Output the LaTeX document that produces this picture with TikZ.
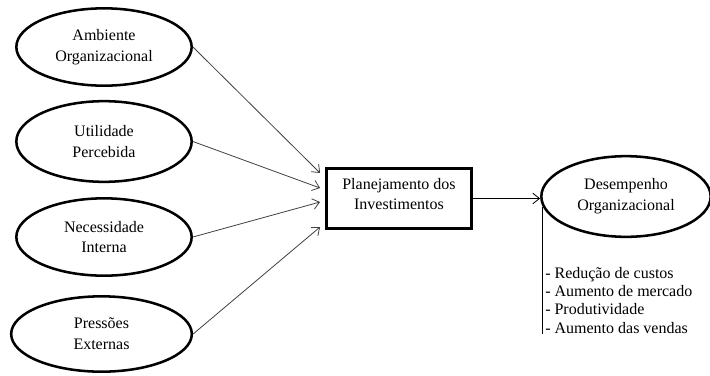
\documentclass[tikz,border=0pt]{standalone}
\usepackage{fontspec}
\setmainfont{Liberation Serif}
\usetikzlibrary{arrows.meta,calc,shapes.geometric}
\begin{document}
\begin{tikzpicture}[x=0.75pt, y=-0.75pt, font=\fontsize{12}{15.5}\selectfont,
  fator/.style={draw, ellipse, line width=1.9pt, inner sep=0pt, minimum width=131.5pt, minimum height=58pt, align=center},
  caixa/.style={draw, line width=2.4pt, minimum width=108.5pt, minimum height=45pt, align=center, text depth=7pt},
  seta/.style={-{Straight Barb[length=5pt,width=8pt]}, line width=0.6pt, black!75}]
  \useasboundingbox (0,0) rectangle (710,375);
  % fatores
  \node[fator] (amb) at (104,47) {Ambiente\\Organizacional};
  \node[fator, minimum height=60.5pt] (util) at (104,141.5) {Utilidade\\Percebida};
  \node[fator] (nec) at (104,237) {Necessidade\\Interna};
  \node[fator, minimum width=135.5pt, minimum height=56.5pt] (press) at (101.5,334) {Pressões\\Externas};
  \node[caixa] (plan) at (399,198.5) {Planejamento dos\\Investimentos};
  \node[fator, minimum width=127pt, minimum height=60.5pt] (des) at (626,196.5) {Desempenho\\Organizacional};
  \draw[seta] (amb.east) -- ($(plan.west)+(-5,-25.5)$);
  \draw[seta] (util.east) -- ($(plan.west)+(-5,-10.5)$);
  \draw[seta] (nec.east) -- ($(plan.west)+(-5,3.5)$);
  \draw[seta] (press.east) -- ($(plan.west)+(-5,28.5)$);
  \draw[seta, black] (plan.east) -- (plan -| des.west);
  % indicadores
  \coordinate (fim) at (543,334);
  \node[anchor=north west, inner sep=0pt, align=left, font=\fontsize{12}{13.7}\selectfont] (ind) at (545,267)
    {- Redução de custos\\- Aumento de mercado\\- Produtividade\\- Aumento das vendas};
  \draw[line width=0.8pt] (des.187.5) -- (des.187.5 |- fim);
\end{tikzpicture}
\end{document}
